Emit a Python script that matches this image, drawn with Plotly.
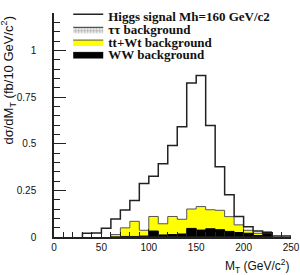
import plotly.graph_objects as go

# ---- data (bin lower edges, bin width 10 GeV/c^2) ----
higgs_left = [30, 40, 50, 60, 70, 80, 90, 100, 110, 120, 130, 140, 150, 160, 170, 180, 190, 200, 210, 220, 230, 240]
higgs_vals = [0.02, 0.022, 0.047, 0.097, 0.145, 0.196, 0.287, 0.325, 0.393, 0.49, 0.59, 0.825, 0.865, 0.597, 0.376, 0.226, 0.11, 0.055, 0.032, 0.02, 0.005, 0.005]

bkg_left = [60, 70, 80, 90, 100, 110, 120, 130, 140, 150, 160, 170, 180, 190, 200, 210, 220]
ww_vals = [0.0, 0.003, 0.003, 0.005, 0.032, 0.011, 0.013, 0.016, 0.046, 0.037, 0.044, 0.039, 0.03, 0.024, 0.02, 0.008, 0.026]
ttwt_vals = [0.013, 0.046, 0.081, 0.031, 0.078, 0.06, 0.097, 0.079, 0.104, 0.126, 0.102, 0.104, 0.079, 0.041, 0.016, 0.012, 0.0]
tautau_vals = [0.0] * len(bkg_left)

bin_w = 10
x_ticks = [0, 50, 100, 150, 200, 250]
y_ticks = [0, 0.25, 0.5, 0.75, 1]


def step(lefts, vals):
    xs = [lefts[0]] + list(lefts) + [lefts[-1] + bin_w, lefts[-1] + bin_w]
    ys = [0] + list(vals) + [vals[-1], 0]
    return xs, ys


stack_top = [w + t for w, t in zip(ww_vals, ttwt_vals)]

fig = go.Figure()

sx, sy = step(bkg_left, stack_top)
fig.add_trace(go.Scatter(x=sx, y=sy, mode="lines", line=dict(shape="hv", color="#555555", width=1),
                         fill="tozeroy", fillcolor="#FFFF00", name="tt+Wt background", legend="legend3"))
wx, wy = step(bkg_left, ww_vals)
fig.add_trace(go.Scatter(x=wx, y=wy, mode="lines", line=dict(shape="hv", color="#000000", width=1),
                         fill="tozeroy", fillcolor="#000000", name="WW background", legend="legend4"))
tx, ty = step(bkg_left, tautau_vals)
fig.add_trace(go.Scatter(x=tx, y=ty, mode="lines", line=dict(shape="hv", color="#333333", width=1),
                         fill="tozeroy", fillcolor="white",
                         fillpattern=dict(shape=".", fgcolor="#555", bgcolor="white", size=3, solidity=0.5),
                         name="ττ background", legend="legend2"))
hx, hy = step(higgs_left, higgs_vals)
fig.add_trace(go.Scatter(x=hx, y=hy, mode="lines", line=dict(shape="hv", color="#222222", width=1.5),
                         fill="tozeroy", fillcolor="rgba(255,255,255,0)", name="Higgs signal Mh=160 GeV/c2",
                         legend="legend"))

leg_font = dict(family="Liberation Serif", size=13, color="#111", weight="bold")


def leg(y):
    return dict(x=0.06, y=y, xanchor="left", yanchor="middle", bgcolor="rgba(0,0,0,0)",
                font=leg_font, itemwidth=30, borderwidth=0)


axis_font = dict(family="Liberation Sans", size=10, color="#111")
fig.update_layout(
    width=300, height=275,
    margin=dict(l=54, r=9, t=1, b=38),
    paper_bgcolor="white", plot_bgcolor="white",
    showlegend=True,
    legend=leg(0.985), legend2=leg(0.927), legend3=leg(0.870), legend4=leg(0.815),
    xaxis=dict(range=[0, 250], tickvals=x_ticks, ticks="inside", ticklen=8, tickcolor="#222",
               minor=dict(dtick=10, ticks="inside", ticklen=5, tickcolor="#222"),
               showline=True, linecolor="#222", linewidth=1.5, showgrid=False, zeroline=False,
               tickfont=axis_font),
    yaxis=dict(range=[0, 1.2], tickvals=y_ticks, ticks="inside", ticklen=12, tickcolor="#222",
               minor=dict(dtick=0.05, ticks="inside", ticklen=6, tickcolor="#222"),
               showline=True, linecolor="#222", linewidth=1.5, showgrid=False, zeroline=False,
               tickfont=axis_font, ticklabelstandoff=14),
    annotations=[
        dict(text="dσ/dM<sub>T</sub> (fb/10 GeV/c<sup>2</sup>)", textangle=-90, xref="paper", yref="paper",
             x=0, y=1.0, xanchor="right", yanchor="top", xshift=-35, yshift=-1, showarrow=False,
             font=dict(family="Liberation Sans", size=13, color="#111")),
        dict(text="M<sub>T</sub> (GeV/c<sup>2</sup>)", xref="paper", yref="paper", x=1, y=0,
             xanchor="right", yanchor="top", yshift=-18, showarrow=False,
             font=dict(family="Liberation Sans", size=12, color="#111")),
    ],
)

fig.write_html("out.html", config={"displayModeBar": False},
               post_script="document.body.style.margin='0px';")
